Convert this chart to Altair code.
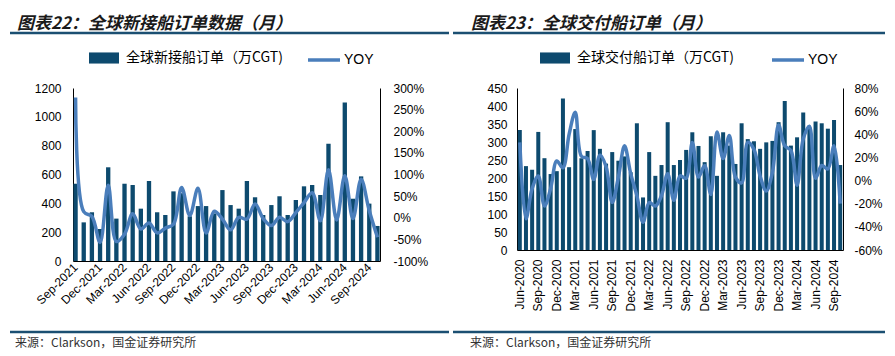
import altair as alt
import pandas as pd

# ---------------- data: global new ship orders (monthly) ----------------
new_months = pd.date_range("2021-09-01", periods=38, freq="MS").strftime("%b-%Y").tolist()
new_orders = [536, 268, 338, 222, 650, 294, 536, 527, 363, 555, 338, 319, 483, 470, 310,
              381, 381, 330, 492, 388, 363, 555, 442, 319, 388, 449, 319, 423, 518, 527,
              458, 814, 290, 1100, 432, 587, 398, 243]
new_yoy = [278, 14, 3, -57, 75, -55, -38, 9, -26, -12, -35, -24, -15, 70, 5, 68, -35, 15,
           -3, -28, 1, -3, 32, -2, -18, 1, -9, 12, 35, 58, -7, 111, -5, 97, -2, 89, 16, -45]
new_ticks = ["Sep-2021", "Dec-2021", "Mar-2022", "Jun-2022", "Sep-2022", "Dec-2022",
             "Mar-2023", "Jun-2023", "Sep-2023", "Dec-2023", "Mar-2024", "Jun-2024", "Sep-2024"]
new_yvals = [0, 200, 400, 600, 800, 1000, 1200]
new_pvals = [-100, -50, 0, 50, 100, 150, 200, 250, 300]

# ---------------- data: global ship deliveries (monthly) ----------------
del_months = pd.date_range("2020-06-01", periods=53, freq="MS").strftime("%b-%Y").tolist()
del_orders = [333, 233, 223, 328, 255, 211, 219, 421, 230, 336, 255, 275, 333, 281, 240,
              272, 248, 260, 216, 352, 146, 272, 206, 236, 355, 236, 250, 278, 327, 289,
              244, 316, 206, 327, 290, 239, 352, 308, 302, 281, 299, 303, 355, 414, 290,
              313, 382, 340, 357, 352, 337, 361, 236]
del_yoy = [33, -33, -7, 4, -22, -7, 17, 11, 40, 59, 21, 19, 1, 22, 12, -19, 3, 30, 6, -13,
           -36, -19, -22, -13, 6, -17, 4, 2, 33, 3, 13, -12, 42, 19, 39, 3, -2, 33, 27, 4,
           -9, 7, 48, 30, 26, -4, 36, 47, 2, 13, 10, 30, -20]
del_ticks = ["Jun-2020", "Sep-2020", "Dec-2020", "Mar-2021", "Jun-2021", "Sep-2021",
             "Dec-2021", "Mar-2022", "Jun-2022", "Sep-2022", "Dec-2022", "Mar-2023",
             "Jun-2023", "Sep-2023", "Dec-2023", "Mar-2024", "Jun-2024", "Sep-2024"]
del_yvals = [0, 50, 100, 150, 200, 250, 300, 350, 400, 450]
del_pvals = [-60, -40, -20, 0, 20, 40, 60, 80]

SOURCE = "来源：Clarkson，国金证券研究所"

BAR = "#0d4a6e"
LINE = "#4a7ebb"
RULE = "#1b4f72"
CJK = "Noto Sans CJK SC"
LAT = "Liberation Sans"
RECT = "M-1,-0.37H1V0.37H-1Z"


def panel(months, vals, yoy, ticks, yvals, pvals, bar_label, title, lay):
    df = pd.DataFrame({"month": months, "val": vals, "yoy": yoy,
                       "sb": bar_label, "sl": "YOY"})
    x = alt.X("month:N", sort=months, title=None,
              scale=alt.Scale(paddingInner=lay["pin"], paddingOuter=lay["pout"]),
              axis=alt.Axis(values=ticks, labelAngle=lay["xangle"], labelAlign="right",
                            labelBaseline="middle", labelPadding=lay["xpad"], ticks=False))
    bars = alt.Chart(df).mark_bar(color=BAR).encode(
        x=x,
        y=alt.Y("val:Q", title=None,
                scale=alt.Scale(domain=[yvals[0], yvals[-1]], nice=False),
                axis=alt.Axis(orient="left", values=yvals, grid=False, ticks=False,
                              format="d", labelPadding=lay["lpad"])),
        fill=alt.Fill("sb:N", title=None, scale=alt.Scale(range=[BAR]),
                      legend=alt.Legend(orient="none", legendX=lay["lbx"], legendY=-45,
                                        symbolType=RECT, symbolSize=900,
                                        symbolStrokeWidth=0, labelFont=CJK,
                                        labelFontSize=14, labelOffset=7, padding=0,
                                        labelColor="#000")),
    )
    line = alt.Chart(df).mark_line(interpolate="catmull-rom", strokeWidth=3.5).encode(
        x=x,
        y=alt.Y("yoy:Q", title=None,
                scale=alt.Scale(domain=[pvals[0], pvals[-1]], nice=False, zero=False),
                axis=alt.Axis(orient="right", values=pvals, grid=False, ticks=False,
                              labelExpr="datum.value + '%'", labelPadding=lay["rpad"])),
        stroke=alt.Stroke("sl:N", title=None, scale=alt.Scale(range=[LINE]),
                          legend=alt.Legend(orient="none", legendX=lay["llx"], legendY=-46,
                                            symbolType="stroke", symbolSize=1024,
                                            symbolStrokeWidth=3.5, labelFont=LAT,
                                            labelFontSize=14, labelOffset=2, padding=0,
                                            labelColor="#000")),
    )
    one = pd.DataFrame({"k": [0]})
    rule_top = alt.Chart(one).mark_rule(color=RULE, strokeWidth=2.5).encode(
        x=alt.value(lay["rx1"]), x2=alt.value(lay["rx2"]), y=alt.value(-55))
    rule_bot = alt.Chart(one).mark_rule(color=RULE, strokeWidth=2.5).encode(
        x=alt.value(lay["rx1"]), x2=alt.value(lay["rx2"]), y=alt.value(244))
    ttl = alt.Chart(one).mark_text(text=title, align="left", baseline="middle", font=CJK,
                                   fontSize=17, fontWeight="bold", fontStyle="italic",
                                   color="#1a1a1a").encode(
        x=alt.value(lay["tx"]), y=alt.value(-64.5))
    src = alt.Chart(one).mark_text(text=SOURCE, align="left", baseline="middle", font=CJK,
                                   fontSize=12, color="#333333").encode(
        x=alt.value(lay["sx"]), y=alt.value(255))
    return alt.layer(bars, line, rule_top, rule_bot, ttl, src).resolve_scale(
        y="independent").properties(width=lay["W"], height=lay["H"])


left = panel(new_months, new_orders, new_yoy, new_ticks, new_yvals, new_pvals,
             "全球新接船订单（万CGT)", "图表22：全球新接船订单数据（月）",
             dict(W=307, H=173, pin=0.47, pout=0.05, xangle=-45, xpad=4, lpad=12, rpad=13,
                  lbx=16, llx=233, rx1=-63, rx2=376, tx=-56, sx=-58))
right = panel(del_months, del_orders, del_yoy, del_ticks, del_yvals, del_pvals,
              "全球交付船订单（万CGT)", "图表23：全球交付船订单（月）",
              dict(W=326, H=162, pin=0.35, pout=0.13, xangle=-90, xpad=9, lpad=10, rpad=11,
                   lbx=23, llx=253, rx1=-64, rx2=368, tx=-46, sx=-47))

chart = alt.hconcat(left, right, spacing=0).resolve_scale(
    fill="independent", stroke="independent"
).properties(
    padding={"left": 0, "top": 6, "right": 0, "bottom": 0}
).configure_view(stroke=None).configure_axis(
    labelFont=LAT, labelFontSize=12, labelColor="#000", domainColor="#000", domainWidth=1
)

chart.save("out.html", embed_options={"renderer": "svg", "actions": False})
